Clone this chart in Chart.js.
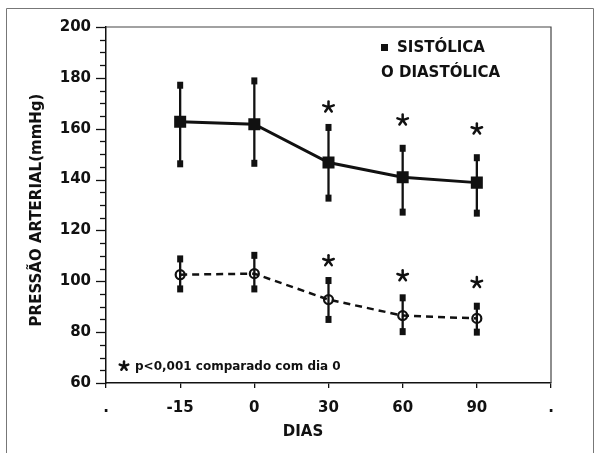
<!DOCTYPE html>
<html>
<head>
<meta charset="utf-8">
<script src="https://cdn.jsdelivr.net/npm/chart.js@4.4.0/dist/chart.umd.min.js"></script>
<style>
  html, body { margin: 0; padding: 0; background: #fff; }
  #wrap { width: 600px; height: 453px; }
</style>
</head>
<body>
<div id="wrap"><canvas id="myChart" width="600" height="453"></canvas></div>
<script>
// categorias do eixo x (as pontas ficam vazias, so com um ponto)
const xLabels = [".", "-15", "0", "30", "60", "90", "."];
const dias = ["-15", "0", "30", "60", "90"];

// pressao sistolica (media e barras de erro)
const sistMedia = [162.7, 161.8, 146.7, 140.9, 138.8];
const sistSup = [177.1, 178.8, 160.5, 152.3, 148.6];
const sistInf = [146.2, 146.4, 132.7, 127.2, 126.8];

// pressao diastolica
const diasMedia = [102.6, 103.0, 92.8, 86.5, 85.4];
const diasSup = [108.8, 110.2, 100.3, 93.5, 90.2];
const diasInf = [97.0, 97.0, 85.0, 80.2, 80.0];

// asteriscos (p<0,001)
const astDias = ["30", "60", "90"];
const astSist = [168.5, 163.4, 159.9];
const astDiast = [108.1, 102.2, 99.5];

const yTicks = [60, 80, 100, 120, 140, 160, 180, 200];

const ink = "#111";
const fam = "'DejaVu Sans', sans-serif";
const font15 = { family: "DejaVu Sans", size: 15, weight: "bold" };

const toPts = (vals) => vals.map((v, i) => ({ x: dias[i], y: v }));

const drawStar = (ctx, x, y, r) => {
  ctx.save();
  ctx.strokeStyle = ink;
  ctx.lineWidth = 2.5;
  ctx.lineCap = "round";
  for (let k = 0; k < 5; k++) {
    const a = -Math.PI / 2 + (k * 2 * Math.PI) / 5;
    ctx.beginPath();
    ctx.moveTo(x, y);
    ctx.lineTo(x + r * Math.cos(a), y + r * Math.sin(a));
    ctx.stroke();
  }
  ctx.restore();
};

const errorBars = {
  id: "errorBars",
  beforeDatasetsDraw(chart) {
    const { ctx } = chart;
    const xs = chart.scales.x;
    const ys = chart.scales.y;
    const series = [
      [sistSup, sistInf],
      [diasSup, diasInf],
    ];
    ctx.save();
    ctx.strokeStyle = ink;
    ctx.fillStyle = ink;
    ctx.lineWidth = 2.3;
    series.forEach(([sup, inf]) => {
      dias.forEach((d, i) => {
        const px = xs.getPixelForValue(xLabels.indexOf(d));
        const top = ys.getPixelForValue(sup[i]);
        const bot = ys.getPixelForValue(inf[i]);
        ctx.beginPath();
        ctx.moveTo(px, top);
        ctx.lineTo(px, bot);
        ctx.stroke();
        ctx.fillRect(px - 3, top - 3.5, 6, 7);
        ctx.fillRect(px - 3, bot - 3.5, 6, 7);
      });
    });
    ctx.restore();
  },
};

const decor = {
  id: "decor",
  afterDraw(chart) {
    const { ctx, chartArea } = chart;
    const xs = chart.scales.x;
    const ys = chart.scales.y;
    ctx.save();

    // moldura externa
    ctx.strokeStyle = "#777";
    ctx.lineWidth = 1;
    ctx.beginPath();
    ctx.moveTo(6.5, 453);
    ctx.lineTo(6.5, 8.5);
    ctx.lineTo(593.5, 8.5);
    ctx.lineTo(593.5, 453);
    ctx.stroke();

    // topo e lado direito da caixa
    ctx.strokeStyle = "#444";
    ctx.lineWidth = 1.2;
    ctx.beginPath();
    ctx.moveTo(chartArea.left, chartArea.top);
    ctx.lineTo(chartArea.right, chartArea.top);
    ctx.lineTo(chartArea.right, chartArea.bottom);
    ctx.stroke();

    // marcas do eixo y (maiores a cada 20, menores a cada 5)
    ctx.strokeStyle = ink;
    ctx.lineWidth = 1.3;
    for (let v = 60; v <= 200; v += 5) {
      const py = Math.round(ys.getPixelForValue(v)) + 0.5;
      const len = v % 20 === 0 ? 10 : 6;
      ctx.beginPath();
      ctx.moveTo(chartArea.left - len, py);
      ctx.lineTo(chartArea.left, py);
      ctx.stroke();
    }

    // asteriscos
    astDias.forEach((d, i) => {
      const px = xs.getPixelForValue(xLabels.indexOf(d));
      drawStar(ctx, px, ys.getPixelForValue(astSist[i]), 5.5);
      drawStar(ctx, px, ys.getPixelForValue(astDiast[i]), 5.5);
    });

    ctx.fillStyle = ink;
    ctx.textBaseline = "middle";

    // legenda
    ctx.font = "bold 15px " + fam;
    ctx.textAlign = "left";
    ctx.fillRect(381, 44, 7, 7);
    ctx.fillText("SISTÓLICA", 397, 48);
    ctx.fillText("O DIASTÓLICA", 381, 73);

    // nota
    ctx.font = "bold 12px " + fam;
    drawStar(ctx, 124, 366, 4.5);
    ctx.fillText("p<0,001 comparado com dia 0", 135, 367);

    // titulos dos eixos
    ctx.font = "bold 15px " + fam;
    ctx.textAlign = "center";
    ctx.fillText("DIAS", 303, 432);
    ctx.save();
    ctx.translate(37, 210);
    ctx.rotate(-Math.PI / 2);
    ctx.fillText("PRESSÃO ARTERIAL(mmHg)", 0, 0);
    ctx.restore();

    ctx.restore();
  },
};

const chart = new Chart(document.querySelector("#myChart").getContext("2d"), {
  type: "line",
  data: {
    labels: xLabels,
    datasets: [
      {
        label: "SISTÓLICA",
        data: toPts(sistMedia),
        borderColor: ink,
        borderWidth: 3,
        pointStyle: "rect",
        pointRadius: 8.5,
        pointBackgroundColor: ink,
        pointBorderColor: ink,
        pointBorderWidth: 0,
        tension: 0,
      },
      {
        label: "DIASTÓLICA",
        data: toPts(diasMedia),
        borderColor: ink,
        borderWidth: 2.5,
        borderDash: [7, 5],
        pointStyle: "circle",
        pointRadius: 4.5,
        pointBackgroundColor: "rgba(0,0,0,0)",
        pointBorderColor: ink,
        pointBorderWidth: 2.2,
        tension: 0,
      },
    ],
  },
  options: {
    responsive: false,
    animation: false,
    layout: { padding: { top: 27, right: 49, left: 0, bottom: 0 } },
    plugins: {
      legend: { display: false },
      tooltip: { enabled: false },
    },
    scales: {
      x: {
        type: "category",
        offset: false,
        grid: { drawOnChartArea: false, tickLength: 5, color: ink, lineWidth: 1.3 },
        border: { color: ink, width: 1.5 },
        ticks: { font: font15, color: ink, padding: 11, autoSkip: false, maxRotation: 0 },
        afterFit: (s) => {
          s.height = 70;
        },
      },
      y: {
        min: 60,
        max: 200,
        afterBuildTicks: (s) => {
          s.ticks = yTicks.map((v) => ({ value: v }));
        },
        grid: { drawOnChartArea: false, tickLength: 10, tickColor: "rgba(0,0,0,0)" },
        border: { color: ink, width: 1.5 },
        ticks: { font: font15, color: ink, padding: 5 },
        afterFit: (s) => {
          s.width = 106;
        },
      },
    },
  },
  plugins: [errorBars, decor],
});
</script>
</body>
</html>
